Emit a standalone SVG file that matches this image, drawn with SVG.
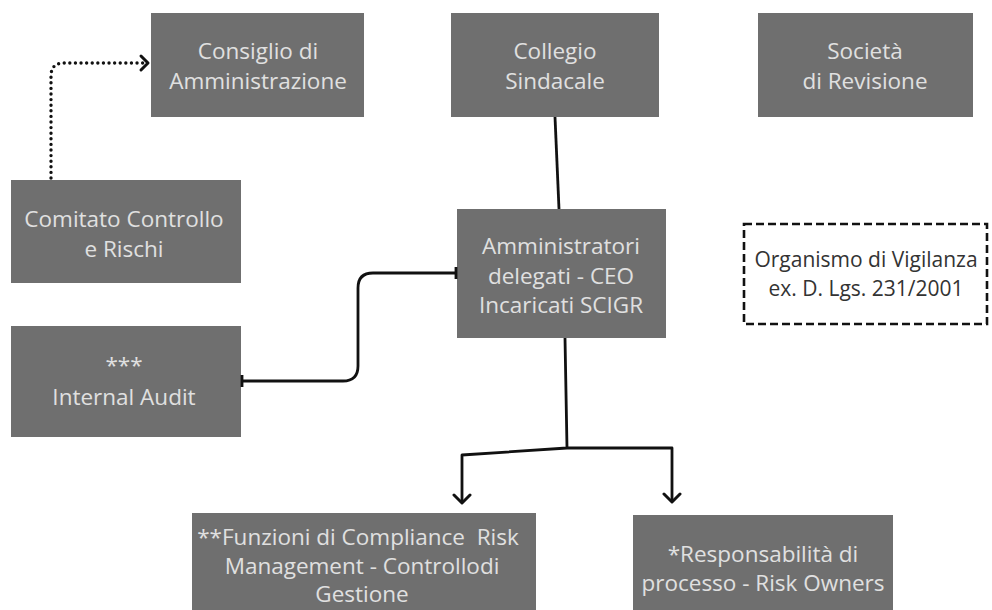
<svg xmlns="http://www.w3.org/2000/svg" width="992" height="610" viewBox="0 0 992 610">
<defs>
<style>
.box{fill:#6f6f6f}
.t{font-family:"Open Sans","Noto Sans","Liberation Sans",sans-serif;font-size:22.5px;fill:#e0e0e0;text-anchor:middle}
.td{font-family:"Open Sans","Noto Sans","Liberation Sans",sans-serif;font-size:21px;fill:#333;text-anchor:middle}
.ln{fill:none;stroke:#111;stroke-width:2.8;stroke-linejoin:round}
.dot{fill:none;stroke:#111;stroke-width:3.4;stroke-linecap:round;stroke-dasharray:0 5.6}
.head{fill:none;stroke:#111;stroke-width:3;stroke-linecap:round;stroke-linejoin:round}
</style>
</defs>
<rect width="992" height="610" fill="#fff"/>
<g id="consiglio"><rect class="box" x="151" y="13" width="213" height="104"/><text class="t" x="258" y="59">Consiglio di</text><text class="t" x="258" y="89">Amministrazione</text></g>
<g id="collegio"><rect class="box" x="451" y="13" width="208" height="104"/><text class="t" x="555" y="59">Collegio</text><text class="t" x="555" y="89">Sindacale</text></g>
<g id="societa"><rect class="box" x="758" y="13" width="215" height="104"/><text class="t" x="865" y="59">Società</text><text class="t" x="865" y="89">di Revisione</text></g>
<g id="comitato"><rect class="box" x="11" y="180" width="230" height="103"/><text class="t" x="124" y="227">Comitato Controllo</text><text class="t" x="124" y="257">e Rischi</text></g>
<g id="internal-audit"><rect class="box" x="11" y="326" width="230" height="111"/><text class="t" x="124" y="373">***</text><text class="t" x="124" y="405">Internal Audit</text></g>
<g id="amministratori"><rect class="box" x="457" y="209" width="209" height="129"/><text class="t" x="561" y="254">Amministratori</text><text class="t" x="561" y="284">delegati - CEO</text><text class="t" x="561" y="313">Incaricati SCIGR</text></g>
<g id="organismo"><rect x="744" y="224" width="243" height="100" fill="none" stroke="#111" stroke-width="2.6" stroke-dasharray="8 4"/><text class="td" x="866" y="267">Organismo di Vigilanza</text><text class="td" x="866" y="296">ex. D. Lgs. 231/2001</text></g>
<g id="funzioni"><rect class="box" x="192" y="513" width="344" height="100"/><text class="t" x="358" y="545" xml:space="preserve">**Funzioni di Compliance  Risk</text><text class="t" x="362" y="574">Management - Controllodi</text><text class="t" x="362" y="602">Gestione</text></g>
<g id="responsabilita"><rect class="box" x="633" y="515" width="260" height="98"/><text class="t" x="763" y="562">*Responsabilità di</text><text class="t" x="763" y="591">processo - Risk Owners</text></g>
<g id="connectors">
<path class="dot" d="M51,178 V76 Q51,63 64,63 H146"/>
<path class="head" d="M141,56 L148,63 L141,70"/>
<path class="ln" d="M555,117 L559,209"/>
<path class="ln" d="M242,381 H343 Q358,381 358,366 V288 Q358,273 373,273 H456"/>
<path class="ln" stroke-width="3.5" d="M242,375 V387 M456,267 V279"/>
<path class="ln" d="M565,338 L567,448 L462,455 V502 M567,448 H672 V501"/>
<path class="head" d="M454,495 L462,503 L470,495 M664,494 L672,502 L680,494"/>
</g>
</svg>
